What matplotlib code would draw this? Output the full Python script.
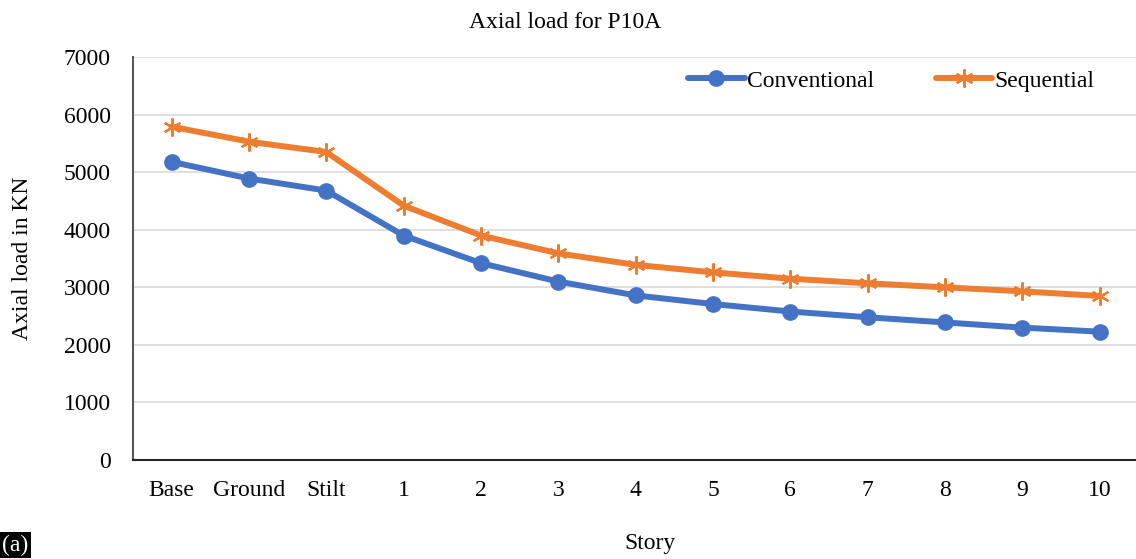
import numpy as np
import matplotlib.pyplot as plt

plt.rcParams['font.family'] = ['Liberation Serif', 'DejaVu Serif']

# storey labels and axial loads (kN) for column P10A
stories = ['Base', 'Ground', 'Stilt', '1', '2', '3', '4', '5', '6', '7', '8', '9', '10']
conventional = [5180, 4890, 4680, 3900, 3420, 3100, 2860, 2710, 2580, 2480, 2390, 2300, 2230]
sequential = [5790, 5530, 5350, 4420, 3900, 3590, 3390, 3260, 3150, 3070, 3000, 2930, 2850]

blue = '#4472C4'
orange = '#ED7D31'

fig = plt.figure(figsize=(11.36, 5.59), dpi=100)
ax = fig.add_axes([0.117, 0.177, 0.883, 0.721])

x = np.arange(len(stories))
ax.plot(x, conventional, color=blue, lw=4.3, marker='o', ms=11,
        label='Conventional', solid_capstyle='round')
ax.plot(x, sequential, color=orange, lw=4.3, marker=(6, 2, 0), ms=13,
        mew=1.6, label='Sequential', solid_capstyle='round')

ax.set_xlim(-0.5, 12.47)
ax.set_ylim(0, 7000)
ax.set_yticks(np.arange(0, 7001, 1000))
ax.set_xticks(x)
ax.set_xticklabels(stories)
ax.tick_params(axis='both', length=0, labelsize=17)
ax.tick_params(axis='x', pad=14)
ax.tick_params(axis='y', pad=16)

ax.grid(axis='y', color='#D9D9D9', lw=1.2)
ax.set_axisbelow(True)
for s in ['top', 'right']:
    ax.spines[s].set_visible(False)
ax.spines['left'].set_color('#595959')
ax.spines['left'].set_linewidth(1.5)
ax.spines['bottom'].set_color('#262626')
ax.spines['bottom'].set_linewidth(1.5)

ax.set_ylabel('Axial load in KN', fontsize=17)
ax.yaxis.set_label_coords(-0.1, 0.5)
ax.set_xlabel('Story', fontsize=17)
ax.xaxis.set_label_coords(0.515, -0.18)

fig.text(565 / 1136, 1 - 22 / 559, 'Axial load for P10A', fontsize=17,
         ha='center', va='center')
fig.text(0.002, 0.025, '(a)', fontsize=17, color='white', ha='left', va='center',
         bbox=dict(facecolor='black', edgecolor='none', pad=1.5))

ax.legend(loc='upper right', ncol=2, frameon=False, fontsize=17,
          handlelength=2.4, columnspacing=2.6, handletextpad=0.1,
          bbox_to_anchor=(0.98, 1.02))

fig.savefig('out.png', dpi=100)
